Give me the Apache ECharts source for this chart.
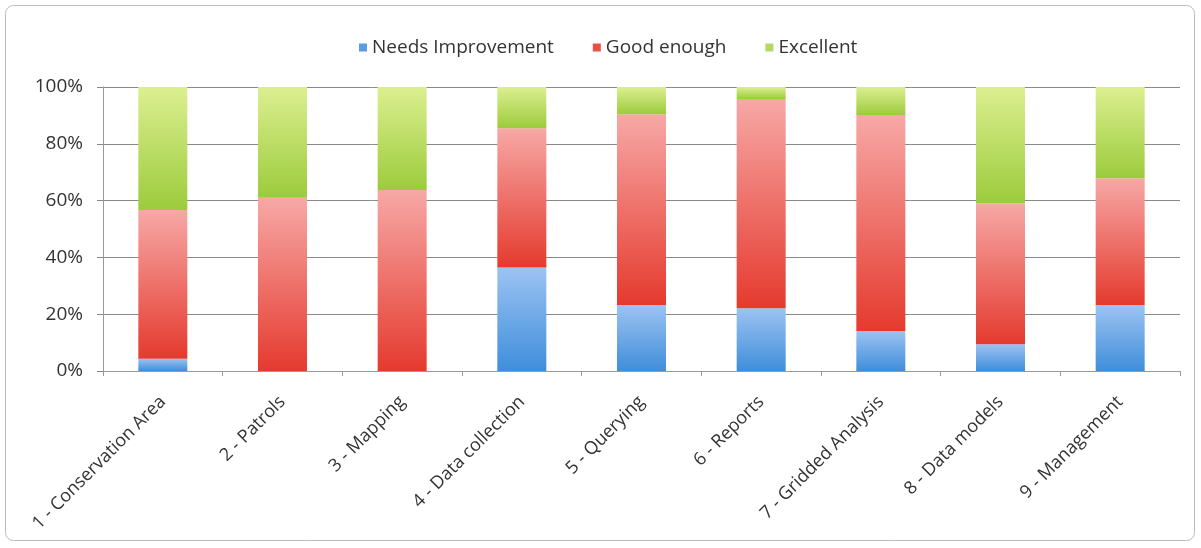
<!DOCTYPE html>
<html>
<head>
<meta charset="utf-8">
<style>
  html, body { margin: 0; padding: 0; background: #fff; }
  #chart { width: 1201px; height: 548px; }
</style>
<script src="https://cdn.jsdelivr.net/npm/echarts@6/dist/echarts.min.js"></script>
</head>
<body>
<div id="chart"></div>
<script>
// Survey results per module, as percentage of responses
const categories = [
  '1 - Conservation Area', '2 - Patrols', '3 - Mapping', '4 - Data collection',
  '5 - Querying', '6 - Reports', '7 - Gridded Analysis', '8 - Data models', '9 - Management'
];
const needsImprovement = [4.3, 0, 0, 36.4, 23.2, 22.1, 14.1, 9.4, 23.2];
const goodEnough       = [52.4, 61.0, 63.7, 49.1, 67.2, 73.7, 76.0, 49.6, 44.7];
const excellent        = [43.3, 39.0, 36.3, 14.5, 9.6, 4.2, 9.9, 41.0, 32.1];
const yTicks = [0, 20, 40, 60, 80, 100];

const font = '"Open Sans", "Noto Sans", sans-serif';

function grad(top, bottom) {
  return new echarts.graphic.LinearGradient(0, 0, 0, 1, [
    { offset: 0, color: top },
    { offset: 1, color: bottom }
  ]);
}

const chart = echarts.init(document.getElementById('chart'), null, { renderer: 'canvas' });

const barBase = { type: 'bar', stack: 'total', barWidth: 49 };

chart.setOption({
  backgroundColor: '#ffffff',
  animation: false,
  graphic: [{
    type: 'rect',
    shape: { x: 5.5, y: 5.5, width: 1189, height: 535, r: 8 },
    style: { fill: 'none', stroke: '#bcbcbc', lineWidth: 1 },
    silent: true
  }],
  legend: {
    top: 33,
    left: 354,
    itemWidth: 8,
    itemHeight: 8,
    itemGap: 39,
    icon: 'rect',
    textStyle: { fontFamily: font, fontSize: 19, color: '#333' },
    data: [
      { name: 'Needs Improvement', itemStyle: { color: '#5b9be0' } },
      { name: 'Good enough', itemStyle: { color: '#e8504a' } },
      { name: 'Excellent', itemStyle: { color: '#b4d868' } }
    ]
  },
  grid: { left: 103, right: 21, top: 87, bottom: 177 },
  xAxis: {
    type: 'category',
    data: categories,
    axisLine: { lineStyle: { color: '#9a9a9a', width: 1 } },
    axisTick: { show: true, alignWithLabel: false, length: 5, lineStyle: { color: '#9a9a9a' } },
    axisLabel: {
      rotate: 45,
      interval: 0,
      margin: 28,
      fontFamily: font,
      fontSize: 18,
      color: '#333'
    }
  },
  yAxis: {
    type: 'value',
    min: 0,
    max: 100,
    interval: 20,
    axisLine: { show: true, lineStyle: { color: '#9a9a9a' } },
    axisTick: { show: true, length: 6, lineStyle: { color: '#888' } },
    splitLine: { lineStyle: { color: '#8a8a8a', width: 1 } },
    axisLabel: {
      margin: 20,
      fontFamily: font,
      fontSize: 19,
      color: '#333',
      formatter: v => yTicks.includes(v) ? v + '%' : ''
    }
  },
  series: [
    Object.assign({}, barBase, {
      name: 'Needs Improvement',
      data: needsImprovement,
      itemStyle: { color: grad('#9cc3f2', '#3f8edb') }
    }),
    Object.assign({}, barBase, {
      name: 'Good enough',
      data: goodEnough,
      itemStyle: { color: grad('#f7a8a6', '#e53a2e') }
    }),
    Object.assign({}, barBase, {
      name: 'Excellent',
      data: excellent,
      itemStyle: { color: grad('#dcef90', '#9ccb3c') }
    })
  ]
});
</script>
</body>
</html>
